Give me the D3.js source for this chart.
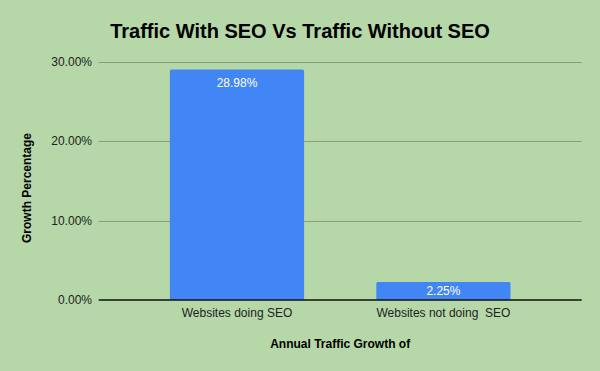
<!DOCTYPE html>
<html>
<head>
<meta charset="utf-8">
<script src="https://d3js.org/d3.v7.min.js"></script>
<style>
  html, body { margin: 0; padding: 0; background: #b6d7a8; }
  svg { display: block; font-family: "Liberation Sans", Arial, sans-serif; }
</style>
</head>
<body>
<svg id="chart" width="600" height="371"></svg>
<script>
// chart data
const categories = ['Websites doing SEO', 'Websites not doing  SEO'];
const growth = [28.98, 2.25];
const yTicks = [0, 10, 20, 30];

const W = 600, H = 371;
const plot = { left: 98.7, right: 581.7, top: 61.5, bottom: 300 };

const svg = d3.select('#chart');
svg.append('rect').attr('width', W).attr('height', H).attr('fill', '#b6d7a8');

const x = d3.scaleBand()
  .domain(categories)
  .range([plot.left, plot.right])
  .paddingInner(0.35)
  .paddingOuter(0.345);

const y = d3.scaleLinear().domain([0, 30]).range([plot.bottom, plot.top]);

// gridlines + tick labels
const grid = svg.append('g');
grid.selectAll('line').data(yTicks.filter(d => d > 0)).join('line')
  .attr('x1', plot.left).attr('x2', plot.right)
  .attr('y1', d => Math.round(y(d)) + 0.5).attr('y2', d => Math.round(y(d)) + 0.5)
  .attr('stroke', '#879f80').attr('stroke-width', 1);

svg.append('g').selectAll('text').data(yTicks).join('text')
  .attr('x', 92).attr('y', d => y(d) + 4.3)
  .attr('text-anchor', 'end')
  .attr('font-size', 12).attr('fill', '#222')
  .text(d => d.toFixed(2) + '%');

// bars
svg.append('g').selectAll('rect').data(growth).join('rect')
  .attr('x', (d, i) => x(categories[i]))
  .attr('width', x.bandwidth())
  .attr('y', d => y(d))
  .attr('height', d => y(0) - y(d))
  .attr('rx', 1.5)
  .attr('fill', '#4285f4');

// value labels inside bars
svg.append('g').selectAll('text').data(growth).join('text')
  .attr('x', (d, i) => x(categories[i]) + x.bandwidth() / 2)
  .attr('y', d => Math.min(y(d) + 17, (y(d) + y(0)) / 2 + 4.3))
  .attr('text-anchor', 'middle')
  .attr('font-size', 12).attr('fill', '#fff')
  .text(d => d.toFixed(2) + '%');

// baseline
svg.append('line')
  .attr('x1', plot.left).attr('x2', plot.right)
  .attr('y1', y(0)).attr('y2', y(0))
  .attr('stroke', '#111').attr('stroke-width', 1.3);

// category labels
svg.append('g').selectAll('text').data(categories).join('text')
  .attr('x', d => x(d) + x.bandwidth() / 2)
  .attr('y', 316.7)
  .attr('text-anchor', 'middle')
  .attr('font-size', 12).attr('fill', '#222')
  .style('white-space', 'pre')
  .text(d => d);

// titles
svg.append('text')
  .attr('x', 300).attr('y', 37.7)
  .attr('text-anchor', 'middle')
  .attr('font-size', 20).attr('font-weight', 'bold').attr('fill', '#000')
  .text('Traffic With SEO Vs Traffic Without SEO');

svg.append('text')
  .attr('x', (plot.left + plot.right) / 2).attr('y', 348)
  .attr('text-anchor', 'middle')
  .attr('font-size', 12).attr('font-weight', 'bold').attr('fill', '#000')
  .text('Annual Traffic Growth of');

svg.append('text')
  .attr('transform', 'translate(31,188) rotate(-90)')
  .attr('text-anchor', 'middle')
  .attr('font-size', 12).attr('font-weight', 'bold').attr('fill', '#000')
  .text('Growth Percentage');
</script>
</body>
</html>
